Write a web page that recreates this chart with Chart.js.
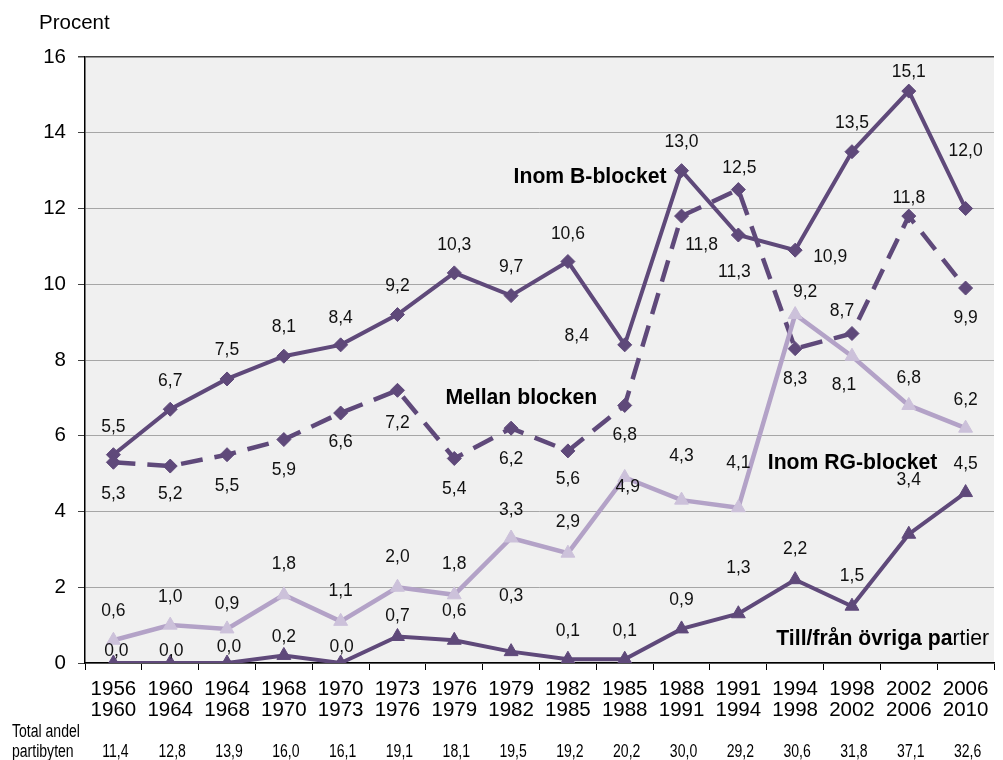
<!DOCTYPE html>
<html>
<head>
<meta charset="utf-8">
<script src="https://cdn.jsdelivr.net/npm/chart.js@4.4.1/dist/chart.umd.min.js"></script>
<style>
  html, body { margin: 0; padding: 0; background: #ffffff; }
  #wrap { position: relative; width: 1003px; height: 760px; }
</style>
</head>
<body>
<div id="wrap"><canvas id="c" width="1003" height="760"></canvas></div>
<script>
// ---- data ----
const startYears = ['1956','1960','1964','1968','1970','1973','1976','1979','1982','1985','1988','1991','1994','1998','2002','2006'];
const endYears   = ['1960','1964','1968','1970','1973','1976','1979','1982','1985','1988','1991','1994','1998','2002','2006','2010'];
const inomB      = [5.5, 6.7, 7.5, 8.1, 8.4, 9.2, 10.3, 9.7, 10.6, 8.4, 13.0, 11.3, 10.9, 13.5, 15.1, 12.0];
const mellan     = [5.3, 5.2, 5.5, 5.9, 6.6, 7.2, 5.4, 6.2, 5.6, 6.8, 11.8, 12.5, 8.3, 8.7, 11.8, 9.9];
const inomRG     = [0.6, 1.0, 0.9, 1.8, 1.1, 2.0, 1.8, 3.3, 2.9, 4.9, 4.3, 4.1, 9.2, 8.1, 6.8, 6.2];
const ovriga     = [0.0, 0.0, 0.0, 0.2, 0.0, 0.7, 0.6, 0.3, 0.1, 0.1, 0.9, 1.3, 2.2, 1.5, 3.4, 4.5];
const totalAndel = ['11,4','12,8','13,9','16,0','16,1','19,1','18,1','19,5','19,2','20,2','30,0','29,2','30,6','31,8','37,1','32,6'];
const yTicks     = [0, 2, 4, 6, 8, 10, 12, 14, 16];

// ---- label placement (pixel offsets from each point) ----
const bDx = [0,0,0,0,0,0,0,0,0,-48,0,-4,35,0,0,0];
const bDy = [-28,-28,-29,-29,-27,-28,-28,-28,-27,-9,-28,37,7,-29,-19,-57];
const mDx = [0,0,0,0,0,0,0,0,0,0,20,1,0,-10,0,0];
const mDy = [32,28,31,31,29,33,31,31,28,30,29,-21,31,-22,-18,30];
const rDx = [0,0,0,0,0,0,0,0,0,3,0,0,10,-8,0,0];
const rDy = [-29,-28,-25,-31,-30,-30,-31,-28,-31,10,-44,-45,-22,29,-27,-28];
const oDx = [3,1,2,0,1,0,0,0,0,0,0,0,0,0,0,0];
const oDy = [-12,-12,-16,-18,-16,-20,-29,-55,-28,-28,-29,-46,-31,-30,-54,-28];

const DARK = '#5f497a';
const LIGHT = '#b3a2c7';
const LIGHT_PT = '#ccc1da';
const FONT = '"Liberation Sans", Arial, Helvetica, sans-serif';

const categories = startYears.map((s, i) => [s, endYears[i]]);
const fmt = v => v.toFixed(1).replace('.', ',');

const bgPlugin = {
  id: 'bg',
  beforeDraw(chart) {
    const { ctx, chartArea: a } = chart;
    ctx.save();
    ctx.fillStyle = '#ffffff';
    ctx.fillRect(0, 0, chart.width, chart.height);
    ctx.fillStyle = '#f0f0f0';
    ctx.fillRect(a.left, a.top, a.right - a.left, a.bottom - a.top);
    ctx.restore();
  }
};

const labelPlugin = {
  id: 'labels',
  afterDatasetsDraw(chart) {
    const { ctx } = chart;
    ctx.save();
    ctx.font = '17.5px ' + FONT;
    ctx.fillStyle = '#111111';
    ctx.textAlign = 'center';
    ctx.textBaseline = 'middle';
    chart.data.datasets.forEach((ds, di) => {
      const meta = chart.getDatasetMeta(di);
      meta.data.forEach((pt, i) => {
        ctx.fillText(fmt(ds.data[i]), pt.x + ds.lblDx[i], pt.y + ds.lblDy[i]);
      });
    });

    // series annotations
    const xs = chart.scales.x, ys = chart.scales.y;
    const AF = 21.2;
    ctx.font = 'bold ' + AF + 'px ' + FONT;
    ctx.fillStyle = '#000000';
    ctx.fillText('Inom B-blocket', xs.getPixelForValue(8.39), ys.getPixelForValue(12.83));
    ctx.fillText('Mellan blocken', xs.getPixelForValue(7.18), ys.getPixelForValue(7.0));
    ctx.fillText('Inom RG-blocket', xs.getPixelForValue(13.01), ys.getPixelForValue(5.28));
    // mixed-weight annotation
    const p1 = 'Till/från övriga pa', p2 = 'rtier';
    ctx.font = 'bold ' + AF + 'px ' + FONT;
    const w1 = ctx.measureText(p1).width;
    ctx.font = AF + 'px ' + FONT;
    const w2 = ctx.measureText(p2).width;
    const cx = xs.getPixelForValue(13.54), cy = ys.getPixelForValue(0.63);
    const left = cx - (w1 + w2) / 2;
    ctx.textAlign = 'left';
    ctx.font = 'bold ' + AF + 'px ' + FONT;
    ctx.fillText(p1, left, cy);
    ctx.font = AF + 'px ' + FONT;
    ctx.fillText(p2, left + w1, cy);

    // "Procent" title
    ctx.font = '20.5px ' + FONT;
    ctx.textAlign = 'left';
    ctx.fillText('Procent', 39, 23);

    // bottom "Total andel partibyten" row (condensed)
    const drawNarrow = (txt, x, y, align) => {
      ctx.save();
      ctx.translate(x, y);
      ctx.scale(0.78, 1);
      ctx.textAlign = align;
      ctx.fillText(txt, 0, 0);
      ctx.restore();
    };
    ctx.font = '18px ' + FONT;
    ctx.fillStyle = '#000000';
    drawNarrow('Total andel', 12, 732, 'left');
    drawNarrow('partibyten', 12, 752, 'left');
    totalAndel.forEach((t, i) => {
      drawNarrow(t, xs.getPixelForValue(i) + 2, 752, 'center');
    });
    ctx.restore();
  }
};

new Chart(document.getElementById('c'), {
  type: 'line',
  data: {
    labels: categories,
    datasets: [
      {
        label: 'Till/från övriga partier', data: ovriga, lblDx: oDx, lblDy: oDy,
        borderColor: DARK, backgroundColor: DARK, borderWidth: 4,
        pointStyle: 'triangle', pointRadius: 8, pointBackgroundColor: DARK, pointBorderColor: DARK, pointBorderWidth: 1,
        tension: 0
      },
      {
        label: 'Inom RG-blocket', data: inomRG, lblDx: rDx, lblDy: rDy,
        borderColor: LIGHT, backgroundColor: LIGHT_PT, borderWidth: 4.5,
        pointStyle: 'triangle', pointRadius: 8, pointBackgroundColor: LIGHT_PT, pointBorderColor: LIGHT_PT, pointBorderWidth: 1,
        tension: 0
      },
      {
        label: 'Mellan blocken', data: mellan, lblDx: mDx, lblDy: mDy,
        borderColor: DARK, backgroundColor: DARK, borderWidth: 4.5, borderDash: [22, 12],
        pointStyle: 'rectRot', pointRadius: 7, pointBackgroundColor: DARK, pointBorderColor: DARK, pointBorderWidth: 1,
        tension: 0
      },
      {
        label: 'Inom B-blocket', data: inomB, lblDx: bDx, lblDy: bDy,
        borderColor: DARK, backgroundColor: DARK, borderWidth: 4,
        pointStyle: 'rectRot', pointRadius: 7, pointBackgroundColor: DARK, pointBorderColor: DARK, pointBorderWidth: 1,
        tension: 0
      }
    ]
  },
  options: {
    responsive: false,
    animation: false,
    devicePixelRatio: 1,
    layout: { padding: { top: 57, right: 0, left: 0, bottom: 0 } },
    plugins: { legend: { display: false }, tooltip: { enabled: false }, title: { display: false } },
    scales: {
      x: {
        type: 'category',
        offset: true,
        grid: { display: true, offset: true, drawOnChartArea: false, drawTicks: true, tickLength: 7, color: '#000000', tickColor: '#000000' },
        border: { display: true, color: '#000000', width: 1.5 },
        ticks: { color: '#000000', font: { family: FONT, size: 20.5, lineHeight: 1.03 }, padding: 9, maxRotation: 0, minRotation: 0, autoSkip: false },
        afterFit(scale) { scale.height = 97; }
      },
      y: {
        min: 0, max: 16,
        afterBuildTicks(scale) { scale.ticks = yTicks.map(v => ({ value: v })); },
        grid: {
          color: ctx => (ctx.tick && ctx.tick.value === 16) ? '#404040' : '#a6a6a6',
          lineWidth: ctx => (ctx.tick && ctx.tick.value === 16) ? 1.5 : 1,
          tickColor: '#404040', tickLength: 7, drawTicks: true
        },
        border: { display: true, color: '#000000', width: 1.5 },
        ticks: { color: '#000000', font: { family: FONT, size: 20.5 }, padding: 12, callback: v => String(v) },
        afterFit(scale) { scale.width = 85; }
      }
    }
  },
  plugins: [bgPlugin, labelPlugin]
});
</script>
</body>
</html>
